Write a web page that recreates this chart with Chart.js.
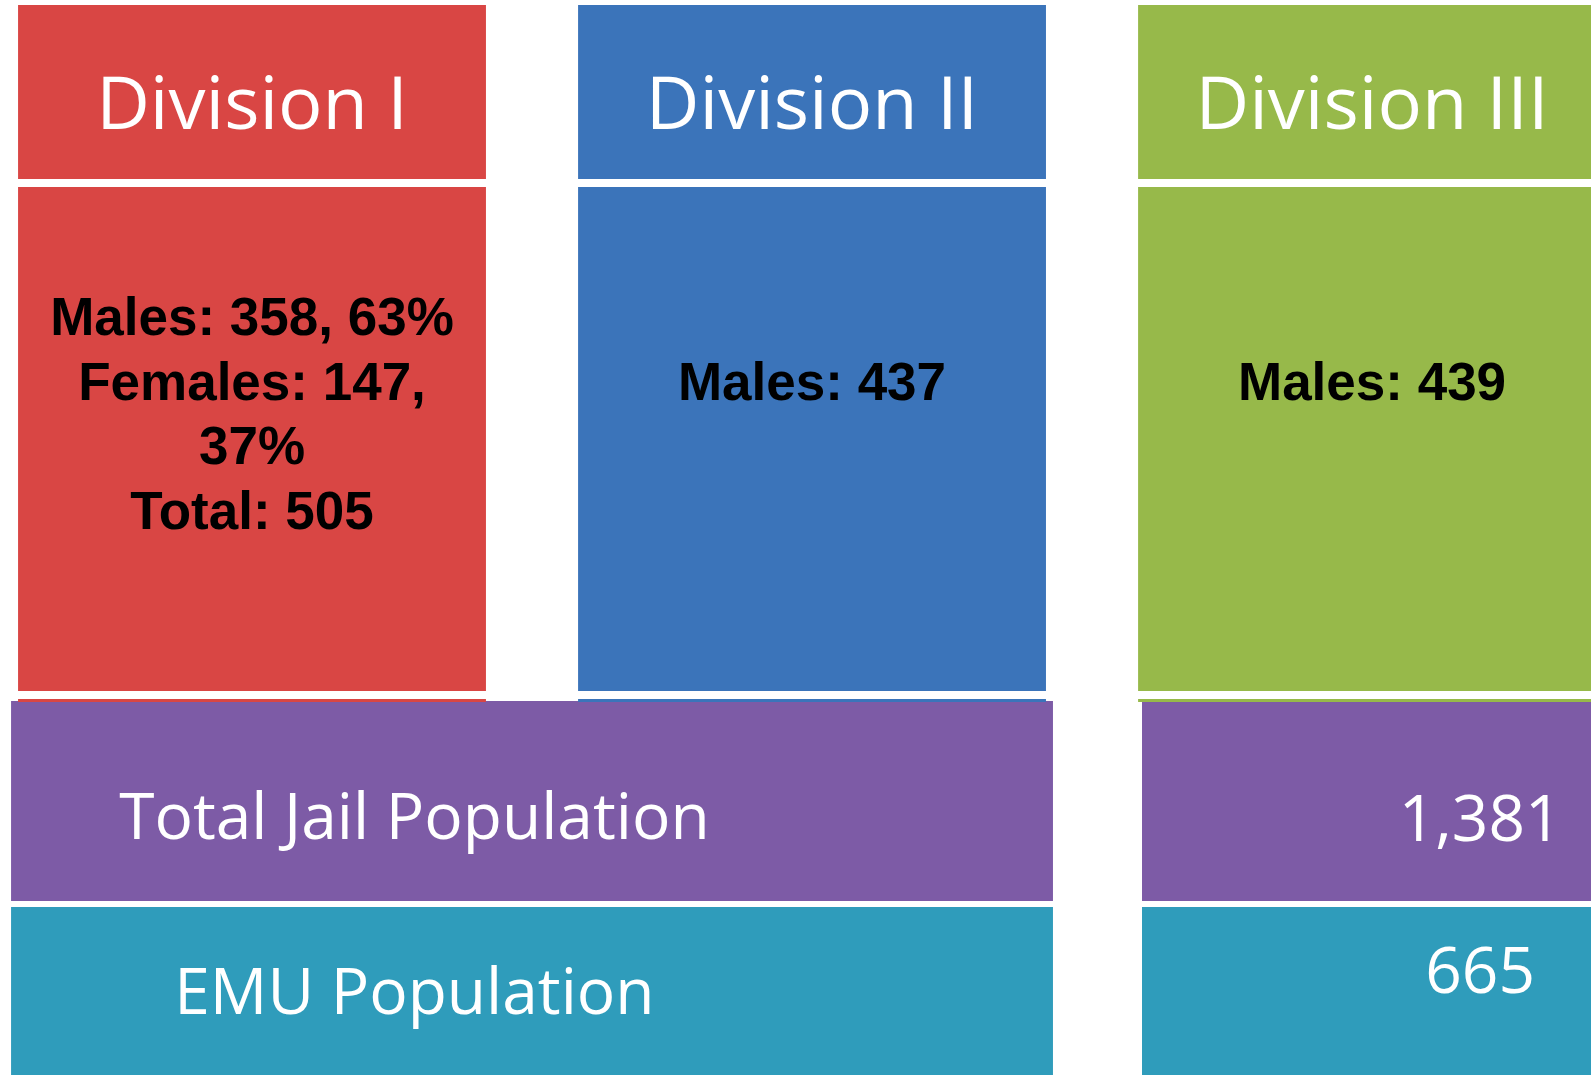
<!DOCTYPE html>
<html>
<head>
<meta charset="utf-8">
<script src="https://cdn.jsdelivr.net/npm/chart.js@4"></script>
<style>
  html, body { margin: 0; padding: 0; background: #ffffff; }
  #wrap { width: 1591px; height: 1075px; position: relative; }
</style>
</head>
<body>
<div id="wrap"><canvas id="myCanvas"></canvas></div>
<script>
// data
const divisions = ['Division I', 'Division II', 'Division III'];
const males = [358, 437, 439];
const malePct = [63, null, null];
const females = [147, null, null];
const femalePct = [37, null, null];
const divTotals = [505, null, null];
const summaryLabels = ['Total Jail Population', 'EMU Population'];
const summaryValues = [1381, 665];

// colours
const divColors = ['#D94644', '#3B74BA', '#97B94A'];
const summaryColors = ['#7D5BA6', '#2F9CBB'];

// layout (axis units): divisions sit at x = 0,1,2 ; y runs top->bottom
const colX = [0, 1, 2];
const spanX = 0.5;          // label cell spans Division I + II
const rowY = {
  header: [5, 179],
  body: [187, 691],
  strip: [699, 702],
  summary: [[701, 901], [907, 1075]]
};

function bodyLines(i) {
  if (females[i] != null) {
    return ['Males: ' + males[i] + ', ' + malePct[i] + '%',
            'Females: ' + females[i] + ',',
            femalePct[i] + '%',
            'Total: ' + divTotals[i]];
  }
  return ['', 'Males: ' + males[i]];
}

const fmt = v => v.toLocaleString('en-US');

var c = document.getElementById("myCanvas");
var ctx = c.getContext("2d");

const labelPlugin = {
  id: 'cellLabels',
  afterDatasetsDraw(chart) {
    const g = chart.ctx;
    const xs = chart.scales.x, ys = chart.scales.y;
    g.save();
    g.textAlign = 'center';
    g.textBaseline = 'alphabetic';

    // header titles
    g.fillStyle = '#ffffff';
    g.font = '74px "Open Sans"';
    divisions.forEach((d, i) => {
      g.fillText(d, xs.getPixelForValue(colX[i]), ys.getPixelForValue(129));
    });

    // division details
    g.fillStyle = '#000000';
    g.font = 'bold 53px "Liberation Sans"';
    divisions.forEach((d, i) => {
      bodyLines(i).forEach((line, k) => {
        g.fillText(line, xs.getPixelForValue(colX[i]), ys.getPixelForValue(335 + k * 64.5));
      });
    });

    // summary rows
    g.fillStyle = '#ffffff';
    g.font = '64px "Open Sans"';
    const labelBase = [839, 1014];
    const valueBase = [841, 993];
    summaryLabels.forEach((s, i) => {
      g.fillText(s, xs.getPixelForValue(0.29), ys.getPixelForValue(labelBase[i]));
      g.fillText(fmt(summaryValues[i]), xs.getPixelForValue(2.193), ys.getPixelForValue(valueBase[i]));
    });
    g.restore();
  }
};

const tableChart = new Chart(ctx, {
  type: 'bar',
  data: {
    datasets: [
      {
        label: 'Header',
        data: colX.map(x => ({x: x, y: rowY.header})),
        backgroundColor: divColors,
        barPercentage: 1.671
      },
      {
        label: 'Body',
        data: colX.map(x => ({x: x, y: rowY.body})),
        backgroundColor: divColors,
        barPercentage: 1.671
      },
      {
        label: 'Strip',
        data: colX.map(x => ({x: x, y: rowY.strip})),
        backgroundColor: divColors,
        barPercentage: 1.671
      },
      {
        label: 'Summary label',
        data: rowY.summary.map(r => ({x: spanX, y: r})),
        backgroundColor: summaryColors,
        barPercentage: 3.721
      },
      {
        label: 'Summary value',
        data: rowY.summary.map(r => ({x: colX[2], y: r})),
        backgroundColor: summaryColors,
        barPercentage: 1.643
      }
    ]
  },
  options: {
    responsive: true,
    maintainAspectRatio: false,
    animation: false,
    events: [],
    layout: { padding: 0 },
    datasets: {
      bar: { grouped: false, categoryPercentage: 1, borderWidth: 0 }
    },
    scales: {
      x: {
        type: 'linear',
        display: false,
        offset: false,
        min: -0.45,
        max: 2.391,
        afterBuildTicks: s => { s.ticks = [0, 0.5, 1, 1.5, 2].map(v => ({value: v})); }
      },
      y: {
        type: 'linear',
        display: false,
        reverse: true,
        min: 0,
        max: 1075
      }
    },
    plugins: {
      legend: { display: false },
      title: { display: false },
      tooltip: { enabled: false }
    }
  },
  plugins: [labelPlugin]
});
</script>
</body>
</html>
